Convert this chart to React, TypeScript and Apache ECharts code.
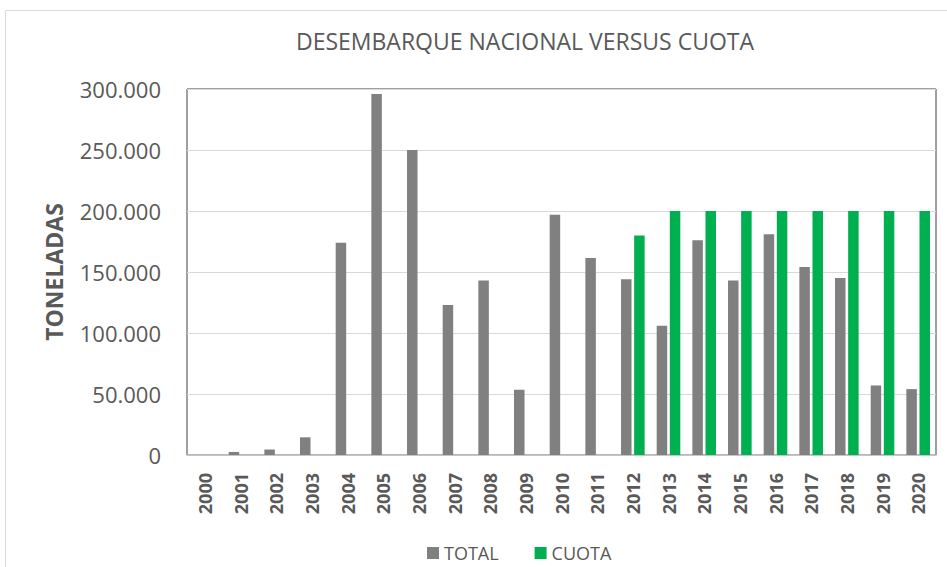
import React, { useEffect, useRef } from "react";
import * as echarts from "echarts";

const years = ["2000","2001","2002","2003","2004","2005","2006","2007","2008","2009","2010","2011","2012","2013","2014","2015","2016","2017","2018","2019","2020"];
const totalValues = [0, 2500, 4500, 14500, 174000, 296000, 250000, 123000, 143000, 53500, 197000, 161500, 144000, 106000, 176000, 143000, 181000, 154000, 145000, 57000, 54000];
const cuotaValues = [null, null, null, null, null, null, null, null, null, null, null, null, 180000, 200000, 200000, 200000, 200000, 200000, 200000, 200000, 200000];
const yTicks = { min: 0, max: 300000, interval: 50000 };

const FONT = "'Open Sans', sans-serif";
const fmt = (v: number) => String(v).replace(/\B(?=(\d{3})+(?!\d))/g, ".");

export default function App() {
  const ref = useRef<HTMLDivElement>(null);
  useEffect(() => {
    const chart = echarts.init(ref.current!, null, { renderer: "svg" });
    chart.setOption({
      animation: false,
      backgroundColor: "#ffffff",
      textStyle: { fontFamily: FONT },
      graphic: [
        {
          type: "rect",
          shape: { x: 5.5, y: 10.5, width: 1000, height: 600 },
          style: { fill: "none", stroke: "#d9d9d9", lineWidth: 1 },
          silent: true,
          z: -1,
        },
        {
          type: "text",
          x: 525,
          y: 41,
          style: {
            text: "DESEMBARQUE NACIONAL VERSUS CUOTA",
            fill: "#595959",
            font: `400 23px ${FONT}`,
            textAlign: "center",
            textVerticalAlign: "middle",
          },
        },
      ],
      legend: {
        left: 427,
        top: 544,
        padding: 0,
        itemWidth: 12,
        itemHeight: 12,
        itemGap: 36,
        icon: "rect",
        textStyle: { color: "#595959", fontSize: 18, lineHeight: 18, fontFamily: FONT },
        data: ["TOTAL", "CUOTA"],
      },
      grid: {
        left: 187,
        top: 89,
        width: 749,
        height: 366,
        show: true,
        borderColor: "#404040",
        borderWidth: 1,
        containLabel: false,
      },
      xAxis: {
        type: "category",
        data: years,
        axisLine: { lineStyle: { color: "#bfbfbf", width: 1.5 } },
        axisTick: { inside: true, length: 6, lineStyle: { color: "#d9d9d9" } },
        axisLabel: {
          rotate: 90,
          margin: 18,
          color: "#595959",
          fontWeight: "bold",
          fontSize: 18,
          fontFamily: FONT,
          interval: 0,
        },
      },
      yAxis: {
        type: "value",
        min: yTicks.min,
        max: yTicks.max,
        interval: yTicks.interval,
        name: "TONELADAS",
        nameLocation: "middle",
        nameRotate: 90,
        nameGap: 122,
        nameTextStyle: { color: "#595959", fontWeight: "bold", fontSize: 23, fontFamily: FONT },
        axisLine: { show: false },
        axisTick: { show: false },
        axisLabel: {
          color: "#595959",
          fontSize: 22,
          margin: 26,
          fontFamily: FONT,
          formatter: (v: number) => fmt(v),
        },
        splitLine: { lineStyle: { color: "#d9d9d9", width: 1 } },
      },
      series: [
        {
          name: "TOTAL",
          type: "bar",
          data: totalValues,
          barWidth: 10.5,
          barGap: "25%",
          itemStyle: { color: "#808080" },
        },
        {
          name: "CUOTA",
          type: "bar",
          data: cuotaValues,
          barWidth: 10.5,
          barGap: "25%",
          itemStyle: { color: "#00b050" },
        },
      ],
    });
    return () => chart.dispose();
  }, []);
  return <div ref={ref} style={{ position: "absolute", left: 0, top: 0, width: 947, height: 567 }} />;
}
